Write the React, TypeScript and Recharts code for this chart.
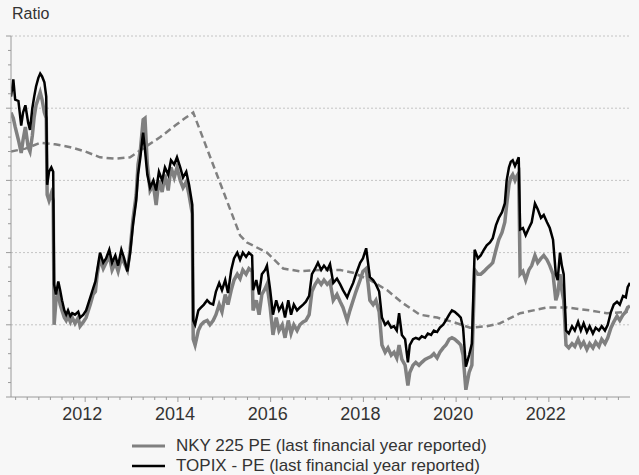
import React from 'react';
import { LineChart, Line, XAxis, YAxis, CartesianGrid } from 'recharts';

const dates = [
  2010.40, 2010.45, 2010.49, 2010.56, 2010.62, 2010.66, 2010.71, 2010.77, 2010.81, 2010.86,
  2010.90, 2010.94, 2010.99, 2011.03, 2011.07, 2011.12, 2011.16, 2011.18, 2011.22, 2011.27,
  2011.31, 2011.33, 2011.37, 2011.42, 2011.46, 2011.50, 2011.55, 2011.59, 2011.63, 2011.68,
  2011.72, 2011.78, 2011.85, 2011.89, 2011.96, 2012.02, 2012.06, 2012.11, 2012.17, 2012.22,
  2012.26, 2012.32, 2012.39, 2012.45, 2012.52, 2012.58, 2012.65, 2012.71, 2012.78, 2012.84,
  2012.91, 2012.97, 2013.03, 2013.10, 2013.14, 2013.19, 2013.23, 2013.25, 2013.29, 2013.34,
  2013.40, 2013.47, 2013.53, 2013.59, 2013.66, 2013.72, 2013.79, 2013.85, 2013.92, 2013.98,
  2014.05, 2014.11, 2014.18, 2014.24, 2014.31, 2014.33, 2014.37, 2014.44, 2014.50, 2014.56,
  2014.63, 2014.69, 2014.76, 2014.82, 2014.89, 2014.95, 2015.02, 2015.08, 2015.15, 2015.21,
  2015.28, 2015.34, 2015.40, 2015.47, 2015.53, 2015.60, 2015.62, 2015.69, 2015.75, 2015.81,
  2015.88, 2015.92, 2015.99, 2016.05, 2016.12, 2016.18, 2016.25, 2016.31, 2016.38, 2016.44,
  2016.50, 2016.57, 2016.63, 2016.70, 2016.76, 2016.83, 2016.89, 2016.96, 2017.02, 2017.09,
  2017.15, 2017.22, 2017.28, 2017.35, 2017.43, 2017.50, 2017.56, 2017.65, 2017.71, 2017.78,
  2017.84, 2017.93, 2017.99, 2018.06, 2018.10, 2018.14, 2018.21, 2018.27, 2018.34, 2018.40,
  2018.47, 2018.53, 2018.60, 2018.66, 2018.72, 2018.77, 2018.83, 2018.90, 2018.96, 2019.00,
  2019.07, 2019.13, 2019.20, 2019.26, 2019.33, 2019.39, 2019.46, 2019.52, 2019.59, 2019.65,
  2019.72, 2019.78, 2019.85, 2019.91, 2019.97, 2020.04, 2020.10, 2020.15, 2020.21, 2020.28,
  2020.34, 2020.40, 2020.47, 2020.53, 2020.60, 2020.66, 2020.73, 2020.79, 2020.86, 2020.92,
  2020.99, 2021.05, 2021.09, 2021.14, 2021.18, 2021.22, 2021.27, 2021.31, 2021.35, 2021.38,
  2021.44, 2021.50, 2021.57, 2021.63, 2021.70, 2021.76, 2021.83, 2021.89, 2021.96, 2022.02,
  2022.09, 2022.15, 2022.19, 2022.24, 2022.28, 2022.32, 2022.37, 2022.43, 2022.50, 2022.56,
  2022.63, 2022.69, 2022.75, 2022.82, 2022.88, 2022.95, 2023.01, 2023.08, 2023.14, 2023.21,
  2023.27, 2023.34, 2023.40, 2023.47, 2023.53, 2023.60, 2023.66, 2023.70, 2023.75,
];

const topixPE = [
  25.8, 27.0, 25.6, 25.5, 23.8, 24.7, 25.2, 24.0, 23.5, 25.0,
  25.8, 26.5, 27.1, 27.4, 27.2, 26.8, 25.8, 19.7, 20.6, 20.9,
  20.6, 12.8, 12.1, 13.0, 12.4, 11.7, 11.0, 10.7, 11.0, 10.6,
  10.8, 10.7, 10.9, 10.5, 10.7, 11.0, 11.4, 11.9, 12.5, 13.0,
  13.8, 15.0, 14.3, 14.6, 15.2, 14.3, 14.8, 14.1, 15.2, 14.6,
  13.7, 15.0, 16.9, 18.6, 20.4, 21.6, 22.8, 23.3, 22.1, 20.4,
  19.5, 20.0, 19.3, 20.6, 20.0, 20.9, 20.4, 21.4, 21.1, 21.6,
  20.9, 20.2, 20.6, 19.7, 18.3, 10.3, 10.0, 11.0, 11.2, 11.4,
  11.7, 11.5, 11.4, 12.3, 12.9, 12.4, 13.1, 12.2, 13.8, 14.6,
  15.0, 14.5, 15.0, 14.7, 15.0, 14.8, 12.4, 13.1, 12.1, 13.5,
  13.8, 14.1, 12.4, 10.7, 11.7, 11.0, 11.4, 10.5, 11.7, 10.7,
  11.4, 11.0, 11.2, 11.4, 11.6, 12.0, 13.5, 13.9, 14.3, 13.8,
  14.1, 13.8, 14.2, 12.9, 13.2, 12.8, 12.4, 11.9, 12.4, 12.9,
  13.5, 14.3, 14.6, 15.3, 14.3, 13.3, 13.1, 12.8, 12.3, 10.5,
  10.0, 10.2, 9.8, 9.9, 9.6, 10.8, 9.3, 9.0, 7.4, 8.6,
  9.0, 9.1, 9.0, 9.2, 9.1, 9.4, 9.3, 9.6, 9.5, 9.8,
  10.0, 10.3, 10.7, 11.0, 10.9, 10.7, 10.5, 9.8, 7.1, 7.9,
  8.7, 15.2, 14.6, 14.8, 15.2, 15.5, 15.7, 16.0, 16.9, 17.4,
  17.8, 18.4, 20.0, 20.9, 21.3, 21.4, 21.0, 21.3, 21.6, 16.6,
  16.7, 16.2, 16.7, 17.1, 18.4, 18.0, 17.4, 17.6, 17.1, 16.7,
  15.9, 13.5, 13.1, 15.0, 14.1, 13.5, 9.6, 9.4, 9.9, 9.6,
  10.2, 9.6, 10.1, 9.5, 9.9, 9.4, 9.8, 9.6, 9.9, 9.6,
  10.0, 10.9, 11.4, 11.6, 11.4, 12.0, 11.9, 12.6, 12.9,
];

const nkyPE = [
  24.7, 24.3, 23.7, 22.8, 21.9, 22.8, 23.7, 22.3, 22.0, 23.1,
  24.4, 25.2, 25.7, 26.1, 25.6, 24.7, 24.3, 19.0, 18.6, 19.1,
  18.6, 10.0, 11.7, 12.1, 11.4, 11.0, 10.5, 10.3, 10.6, 10.2,
  10.5, 10.1, 10.5, 9.9, 10.2, 10.5, 10.9, 11.4, 12.1, 12.3,
  13.5, 14.6, 13.9, 14.3, 14.8, 13.8, 14.3, 13.7, 14.6, 14.3,
  13.8, 15.2, 17.3, 19.0, 21.1, 22.1, 23.5, 24.2, 24.3, 21.1,
  19.3, 19.7, 18.3, 20.0, 19.2, 20.4, 19.3, 20.9, 20.2, 20.9,
  20.0, 19.5, 19.9, 19.0, 17.7, 9.0, 8.6, 9.6, 10.0, 10.2,
  10.3, 10.0, 10.3, 10.7, 11.4, 10.9, 12.1, 11.4, 12.4, 13.1,
  13.5, 13.2, 13.8, 13.5, 13.9, 13.7, 11.0, 11.7, 10.7, 12.1,
  12.5, 12.8, 11.2, 9.3, 10.5, 9.6, 10.0, 9.1, 10.3, 9.4,
  10.0, 9.6, 10.0, 10.2, 10.3, 10.7, 12.3, 12.8, 13.1, 12.8,
  13.1, 12.8, 13.0, 11.7, 12.1, 11.6, 11.2, 10.3, 11.0, 11.7,
  12.3, 13.1, 13.7, 13.9, 12.9, 11.7, 11.4, 11.7, 10.9, 8.6,
  8.1, 8.4, 7.9, 8.1, 7.7, 8.6, 7.6, 7.2, 5.8, 6.7,
  7.2, 7.4, 7.2, 7.4, 7.6, 7.7, 7.8, 8.0, 7.7, 8.1,
  8.4, 8.6, 9.0, 9.1, 9.0, 8.8, 8.6, 7.9, 5.5, 6.7,
  7.2, 13.8, 13.5, 13.5, 13.7, 13.9, 14.1, 14.3, 15.2, 15.9,
  16.4, 17.1, 18.3, 19.7, 20.2, 20.4, 20.0, 20.3, 20.5, 13.5,
  13.7, 13.1, 13.8, 14.1, 14.8, 14.3, 14.6, 14.8, 14.5, 14.1,
  13.5, 11.7, 12.1, 13.5, 12.4, 11.7, 8.6, 8.4, 8.7, 8.5,
  9.0, 8.5, 8.8, 8.3, 8.7, 8.4, 8.8, 8.5, 9.0, 8.7,
  9.1, 9.8, 10.2, 10.6, 10.3, 10.7, 10.9, 11.2, 11.3,
];

const avgDates = [
  2010.40, 2010.71, 2011.03, 2011.35, 2011.68, 2012.00, 2012.32, 2012.65, 2012.97, 2013.29,
  2013.62, 2013.94, 2014.15, 2014.33, 2015.34, 2015.49, 2015.92, 2016.27, 2016.63, 2017.06,
  2017.50, 2017.78, 2018.14, 2018.51, 2018.85, 2019.22, 2019.59, 2019.93, 2020.30, 2020.66,
  2020.94, 2021.38, 2021.96, 2022.39, 2022.88, 2023.25, 2023.70,
];
const avgPE = [
  22.0, 22.2, 22.6, 22.5, 22.3, 22.0, 21.6, 21.5, 21.6, 22.3,
  23.0, 23.8, 24.3, 24.7, 16.2, 15.7, 15.0, 13.9, 13.7, 13.8,
  13.8, 13.6, 13.1, 12.4, 11.5, 10.7, 10.5, 10.2, 9.8, 9.9,
  10.1, 10.8, 11.2, 11.2, 11.0, 10.8, 10.9,
];

const yearLabels = [2012, 2014, 2016, 2018, 2020, 2022];
const seriesNames = [
  'NKY 225 PE (last financial year reported)',
  'TOPIX - PE (last financial year reported)',
];
const yTitle = 'Ratio';
const gridValues = [10, 15, 20, 25, 30];

const mainData = dates.map((d, i) => ({ date: d, nky: nkyPE[i], topix: topixPE[i] }));
const avgData = avgDates.map((d, i) => ({ date: d, avg: avgPE[i] }));

const xTicks: number[] = [];
for (let k = 0; k <= 52; k++) xTicks.push(2010.5 + k * 0.25);
const yTicks: number[] = [];
for (let v = 5; v <= 30; v++) yTicks.push(v);

const FONT = '"Liberation Sans", Arial, sans-serif';
const AXIS = '#9a9a9a';
const TEXT = '#333333';
const GRAY = '#808080';

const XTick = (props: any) => {
  const { x, y, payload } = props;
  const v = payload.value as number;
  const yr = Math.round(v);
  const label = Math.abs(v - yr) < 1e-6 && yearLabels.includes(yr);
  return (
    <g>
      <line x1={x} x2={x} y1={y} y2={y + (label ? 5 : 3)} stroke={AXIS} strokeWidth={1} />
      {label && (
        <text x={x - 3} y={y + 23} textAnchor="middle" fontSize={18} fill={TEXT} fontFamily={FONT}>
          {yr}
        </text>
      )}
    </g>
  );
};

const YTick = (props: any) => {
  const { x, y, payload } = props;
  const major = payload.value % 5 === 0;
  return <line x1={x - (major ? 5 : 3)} x2={x} y1={y} y2={y} stroke={AXIS} strokeWidth={1} />;
};

export default function App() {
  return (
    <div style={{ position: 'absolute', left: 0, top: 0, width: 639, height: 475, background: '#f7f7f7' }}>
      <LineChart
        width={639}
        height={475}
        data={mainData}
        margin={{ top: 36, right: 9, bottom: 0, left: 10 }}
      >
        <CartesianGrid
          vertical={false}
          horizontalValues={gridValues}
          stroke="#c4c4c4"
          strokeDasharray="2 2"
        />
        <XAxis
          dataKey="date"
          type="number"
          domain={[2010.4, 2023.75]}
          allowDataOverflow
          ticks={xTicks}
          interval={0}
          tickSize={0}
          tickMargin={0}
          tickLine={false}
          axisLine={{ stroke: AXIS }}
          tick={<XTick />}
          height={78}
        />
        <YAxis
          type="number"
          domain={[5, 30]}
          allowDataOverflow
          ticks={yTicks}
          interval={0}
          tickSize={0}
          tickMargin={0}
          tickLine={false}
          axisLine={{ stroke: AXIS }}
          tick={<YTick />}
          width={1}
        />
        <Line
          data={avgData}
          dataKey="avg"
          type="linear"
          stroke={GRAY}
          strokeWidth={2.5}
          strokeDasharray="7 4"
          dot={false}
          isAnimationActive={false}
        />
        <Line
          dataKey="nky"
          name={seriesNames[0]}
          type="linear"
          stroke={GRAY}
          strokeWidth={3.5}
          dot={false}
          isAnimationActive={false}
        />
        <Line
          dataKey="topix"
          name={seriesNames[1]}
          type="linear"
          stroke="#000000"
          strokeWidth={2.5}
          dot={false}
          isAnimationActive={false}
        />
      </LineChart>
      <svg
        width={639}
        height={475}
        style={{ position: 'absolute', left: 0, top: 0, pointerEvents: 'none' }}
      >
        <text x={12} y={19} fontSize={16} fill={TEXT} fontFamily={FONT}>
          {yTitle}
        </text>
        <line x1={132} x2={165} y1={446} y2={446} stroke={GRAY} strokeWidth={3} />
        <text x={176} y={451} fontSize={17} fill={TEXT} fontFamily={FONT}>
          {seriesNames[0]}
        </text>
        <line x1={132} x2={165} y1={466} y2={466} stroke="#000000" strokeWidth={2.5} />
        <text x={176} y={471} fontSize={17} fill={TEXT} fontFamily={FONT}>
          {seriesNames[1]}
        </text>
      </svg>
    </div>
  );
}
